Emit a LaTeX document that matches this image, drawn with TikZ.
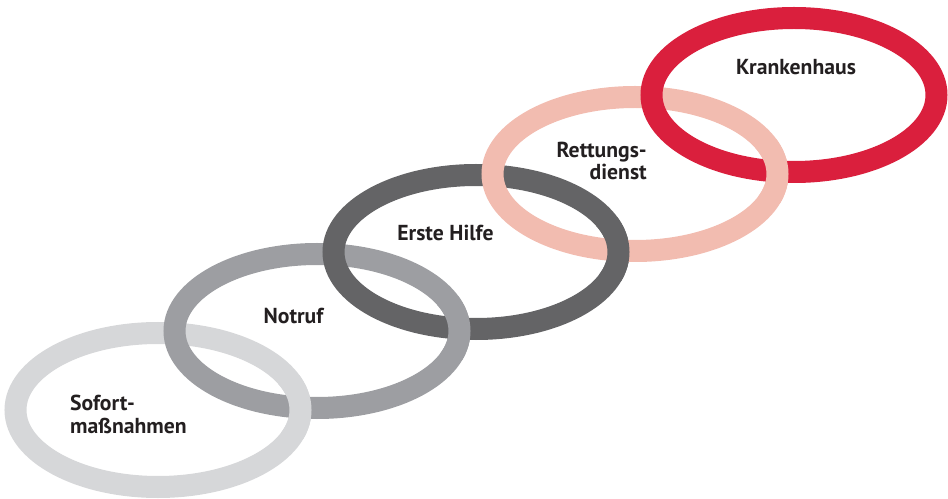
\documentclass[tikz,border=0pt]{standalone}
\usepackage{fontspec}
\setmainfont{PT Sans}

\definecolor{grauhell}{HTML}{D6D7D9}
\definecolor{grau}{HTML}{9D9EA2}
\definecolor{graudunkel}{HTML}{646466}
\definecolor{lachs}{HTML}{F2BCB0}
\definecolor{rot}{HTML}{DA1F3D}
\definecolor{schrift}{HTML}{231F20}

\begin{document}
\begin{tikzpicture}[x=0.03cm,y=0.03cm]

\tikzset{
ring/.style={line width=0.66cm},
beschriftung/.style={font=\bfseries\fontsize{18.5}{19.5}\selectfont,text=schrift,inner sep=0}
}

\useasboundingbox (0,0) rectangle (948,498);

% Ringe
\foreach \n/\x/\y/\c in {
1/158/88/grauhell,
2/317/167/grau,
3/476/246/graudunkel,
4/635/324/lachs,
5/794/403/rot}
{
\coordinate (m\n) at (\x,\y);
\draw[ring,draw=\c] (m\n) ellipse [x radius=142.5,y radius=77];
}

% Verschlingung rechts unten
\foreach \n/\c in {1/grauhell,2/grau,3/graudunkel,4/lachs}
{
\begin{scope}
\clip ([shift={(142,3)}]m\n) circle (32);
\draw[ring,draw=\c] (m\n) ellipse [x radius=142.5,y radius=77];
\end{scope}
}

% Texte
\node[beschriftung,anchor=base west,align=left] (sofort) at (70,65)
{Sofort-\\maßnahmen};

\node[beschriftung,anchor=base] (notruf) at (293.5,175)
{Notruf};

\node[beschriftung,anchor=base] (erste) at (445.5,257)
{Erste Hilfe};

\node[beschriftung,anchor=base east,align=right] (rettung) at (647,318)
{Rettungs-\\dienst};

\node[beschriftung,anchor=base] (krankenhaus) at (796,423)
{Krankenhaus};

\end{tikzpicture}
\end{document}
